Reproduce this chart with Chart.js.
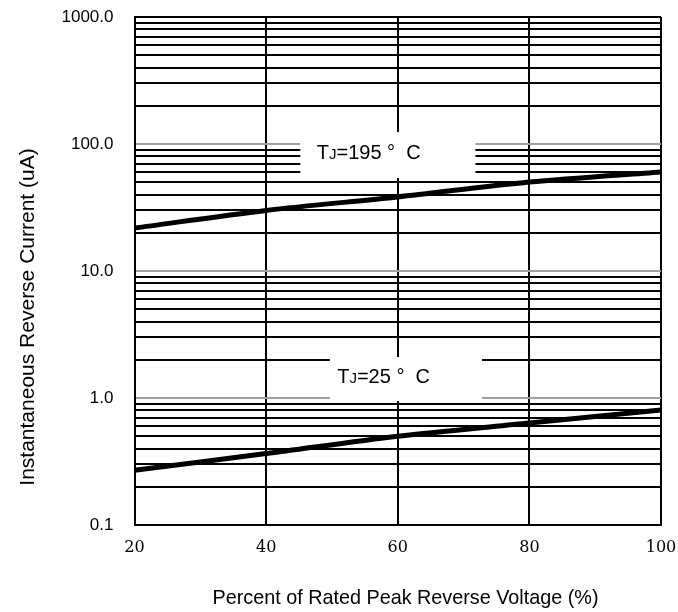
<!DOCTYPE html>
<html><head><meta charset="utf-8">
<script src="https://cdn.jsdelivr.net/npm/chart.js@4"></script>
<style>html,body{margin:0;padding:0;background:#fff;}#wrap{width:678px;height:612px;}</style>
</head><body><div id="wrap"><canvas id="c" width="678" height="612"></canvas></div>
<script>
const xValues = [20, 40, 60, 80, 100];
const hotSeries = [21.8, 30, 38.3, 50.2, 60.3];
const coldSeries = [0.27, 0.365, 0.5, 0.635, 0.805];
const yTickValues = [0.1,0.2,0.3,0.4,0.5,0.6,0.7,0.8,0.9,1,2,3,4,5,6,7,8,9,10,20,30,40,50,60,70,80,90,100,200,300,400,500,600,700,800,900,1000];
const yMajor = [0.1, 1, 10, 100, 1000];
const xTicks = [20, 40, 60, 80, 100];
const xTitle = 'Percent of Rated Peak Reverse Voltage (%)';
const yTitle = 'Instantaneous Reverse Current (uA)';
const labels = [
  {main:'T', sub:'J', rest:'=195 °  C', box:[45.2, 71.8, 54, 124], at:[47.7, 76.2]},
  {main:'T', sub:'J', rest:'=25 °  C', box:[49.7, 72.8, 0.946, 2.1], at:[50.8, 1.31]}
];
const SANS = '"Liberation Sans", Arial, sans-serif';

const labelPlugin = {
  id:'labelBoxes',
  afterDatasetsDraw(chart){
    const ctx = chart.ctx, xs = chart.scales.x, ys = chart.scales.y;
    labels.forEach(l=>{
      const x0 = xs.getPixelForValue(l.box[0]), x1 = xs.getPixelForValue(l.box[1]);
      const y0 = ys.getPixelForValue(l.box[3]), y1 = ys.getPixelForValue(l.box[2]);
      ctx.save();
      ctx.fillStyle = '#fff';
      ctx.fillRect(x0, y0, x1-x0, y1-y0);
      ctx.fillStyle = '#000';
      ctx.textBaseline = 'alphabetic';
      ctx.textAlign = 'left';
      const big = '20px ' + SANS;
      const small = '15px ' + SANS;
      let x = xs.getPixelForValue(l.at[0]);
      const base = ys.getPixelForValue(l.at[1]);
      ctx.font = big; ctx.fillText(l.main, x, base); x += ctx.measureText(l.main).width;
      ctx.font = small; ctx.fillText(l.sub, x, base); x += ctx.measureText(l.sub).width;
      ctx.font = big; ctx.fillText(l.rest, x, base);
      ctx.restore();
    });
    // axis titles
    ctx.save();
    ctx.fillStyle = '#000';
    ctx.textAlign = 'center';
    ctx.textBaseline = 'alphabetic';
    ctx.font = '19.8px ' + SANS;
    ctx.fillText(xTitle, 405.5, 604);
    ctx.translate(34, 317);
    ctx.rotate(-Math.PI/2);
    ctx.font = '21px ' + SANS;
    ctx.fillText(yTitle, 0, 0);
    ctx.restore();
  }
};

new Chart(document.getElementById('c'), {
  type:'line',
  data:{
    datasets:[
      {data: xValues.map((x,i)=>({x, y: hotSeries[i]})), borderColor:'#000', borderWidth:5, pointRadius:0, tension:0.3, fill:false},
      {data: xValues.map((x,i)=>({x, y: coldSeries[i]})), borderColor:'#000', borderWidth:5, pointRadius:0, tension:0.3, fill:false}
    ]
  },
  options:{
    responsive:false, animation:false,
    layout:{padding:{top:17, right:17, left:0, bottom:0}},
    plugins:{legend:{display:false}, tooltip:{enabled:false}},
    scales:{
      x:{
        type:'linear', min:20, max:100,
        afterBuildTicks(s){ s.ticks = xTicks.map(v=>({value:v})); },
        afterFit(s){ s.height = 87; s.paddingLeft = 0; s.paddingRight = 0; },
        grid:{color:'#000', lineWidth:2, drawTicks:false},
        border:{color:'#000', width:2},
        ticks:{color:'#000', padding:13, maxRotation:0, font:{family:'"DejaVu Serif", serif', size:16}}
      },
      y:{
        type:'logarithmic', min:0.1, max:1000,
        afterBuildTicks(s){ s.ticks = yTickValues.map(v=>({value:v})); },
        afterFit(s){ s.width = 134.5; s.paddingTop = 0; s.paddingBottom = 0; },
        grid:{lineWidth:2, drawTicks:false, color(c){ const v=c.tick&&c.tick.value; return (v===1||v===10||v===100)?'#a0a0a0':'#000'; }},
        border:{color:'#000', width:2},
        ticks:{color:'#000', padding:21, autoSkip:false, font:{family:SANS, size:17},
          callback(v){ return yMajor.includes(v) ? v.toFixed(1) : ''; }}
      }
    }
  },
  plugins:[labelPlugin]
});
</script></body></html>
